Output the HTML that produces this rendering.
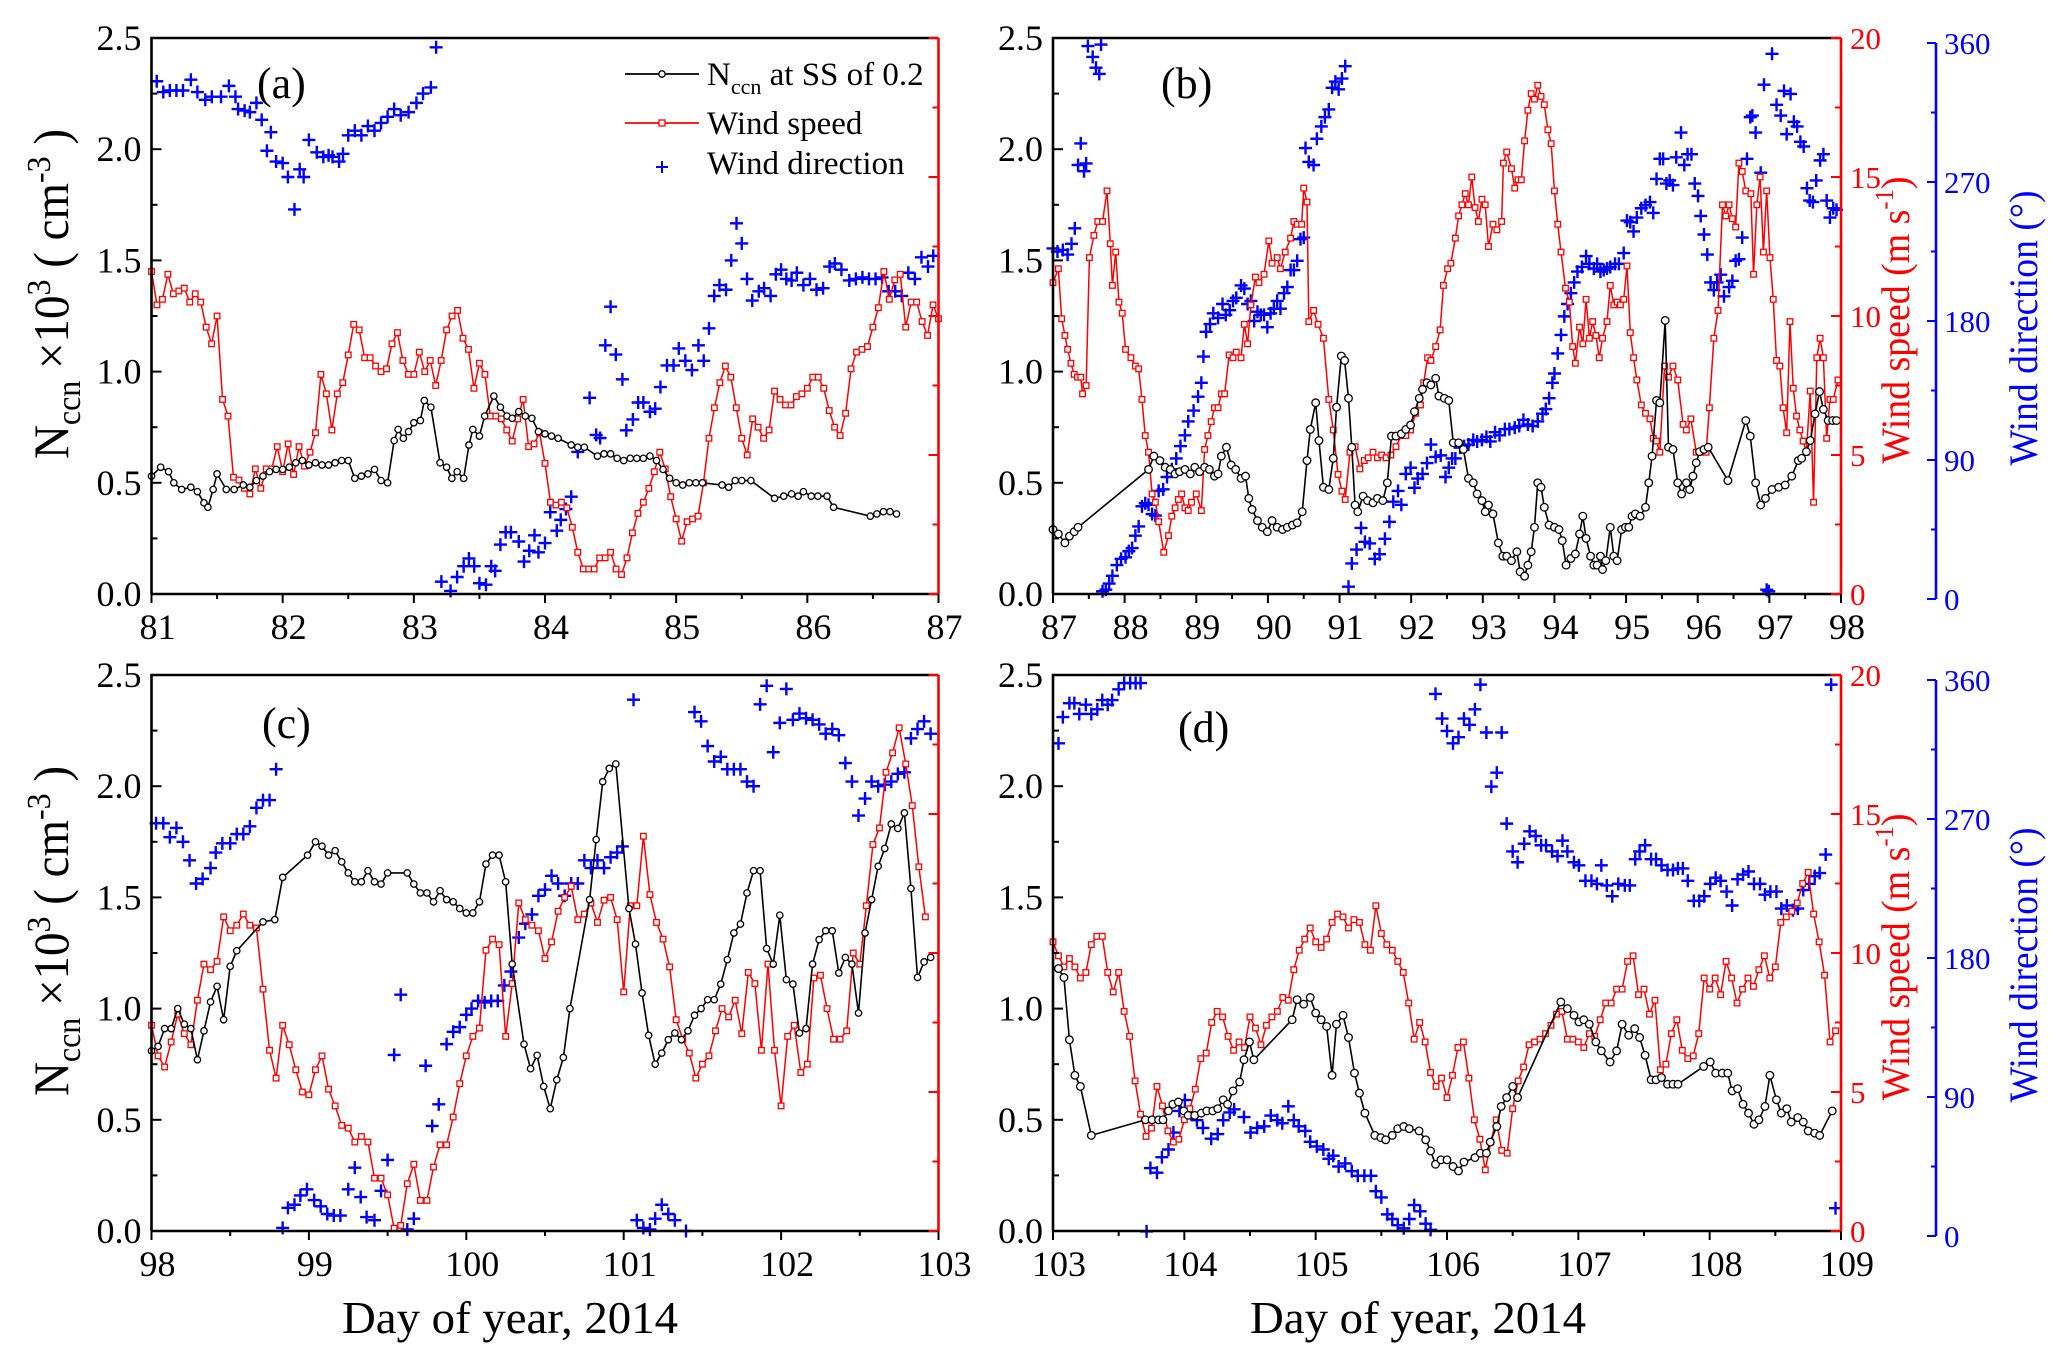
<!DOCTYPE html>
<html><head><meta charset="utf-8"><style>
html,body{margin:0;padding:0;background:#fff;}
svg{display:block;font-family:"Liberation Serif","Times New Roman",serif;}
svg text{font-family:"Liberation Serif","Times New Roman",serif;}
</style></head><body>
<svg id="chart" xmlns="http://www.w3.org/2000/svg" width="2067" height="1366" viewBox="0 0 2067 1366" font-family="Liberation Serif, serif">
<rect width="2067" height="1366" fill="#fff"/>
</svg>
<script>
// ---------------- Panel (a): days 81-87 ----------------
const naccA_days=[81.00,81.07,81.13,81.17,81.23,81.30,81.35,81.40,81.43,81.47,
81.50,81.57,81.63,81.70,81.75,81.80,81.85,81.90,81.95,82.00,
82.05,82.10,82.15,82.20,82.25,82.30,82.35,82.40,82.45,82.50,
82.55,82.60,82.65,82.70,82.75,82.80,82.85,82.88,82.92,82.96,
83.00,83.05,83.08,83.13,83.20,83.25,83.29,83.33,83.38,83.42,
83.45,83.50,83.54,83.61,83.66,83.71,83.75,83.80,83.85,83.90,
83.95,84.00,84.05,84.10,84.20,84.25,84.30,84.40,84.45,84.50,
84.55,84.60,84.65,84.70,84.75,84.80,84.85,84.90,84.95,85.00,
85.05,85.10,85.15,85.20,85.35,85.40,85.45,85.50,85.57,85.75,
85.82,85.88,85.93,85.97,86.03,86.08,86.15,86.20,86.48,86.53,
86.58,86.63,86.68];
const naccA_vals=[.53,.57,.55,.50,.47,.48,.46,.41,.39,.47,
.54,.47,.47,.49,.48,.51,.53,.55,.56,.56,
.57,.59,.60,.58,.59,.58,.58,.59,.60,.60,
.52,.53,.54,.56,.51,.50,.69,.74,.70,.73,
.77,.78,.87,.84,.59,.57,.52,.55,.52,.67,
.74,.71,.80,.89,.84,.80,.79,.82,.80,.79,
.73,.72,.71,.70,.67,.66,.66,.62,.63,.63,
.61,.60,.61,.61,.61,.62,.60,.56,.52,.50,
.49,.50,.50,.50,.49,.48,.51,.51,.51,.43,
.44,.45,.44,.46,.44,.44,.44,.39,.35,.36,
.37,.37,.36];
// hourly wind speed from day 81.0
const windA_vals=[11.6,10.4,10.6,11.5,10.8,10.9,11.0,10.5,10.8,10.5,9.6,9.0,10.0,7.0,6.4,
4.2,4.1,3.8,3.6,4.5,3.8,4.5,4.5,5.3,4.4,5.4,4.3,5.3,4.6,5.1,
5.8,7.9,7.2,5.9,7.2,7.6,8.6,9.7,9.5,8.5,8.5,8.2,8.0,8.1,9.0,
9.4,8.4,7.9,7.9,8.7,8.0,8.4,7.5,8.4,9.5,10.0,10.2,9.2,8.8,7.4,
8.3,7.9,6.4,6.4,6.3,5.9,5.5,6.3,7.0,5.3,5.4,5.8,4.7,3.3,3.2,
3.3,3.1,2.4,1.5,0.9,0.9,0.9,1.3,1.3,1.5,0.9,0.7,1.3,2.2,2.9,
3.3,3.8,4.4,5.1,4.5,3.5,2.7,1.9,2.6,2.7,2.8,4.0,5.6,6.7,7.6,
8.2,7.8,6.7,5.6,5.0,6.3,6.0,5.6,5.9,7.3,7.0,6.8,6.8,7.1,7.2,
7.4,7.8,7.8,7.4,6.6,6.0,5.7,6.5,8.1,8.7,8.8,8.9,9.6,10.3,11.6,
10.6,11.3,11.5,9.6,10.5,10.5,9.8,9.3,10.4,9.9];
const dirA_days=[81.04,81.09,81.14,81.19,81.24,81.30,81.35,81.41,81.46,81.53,
81.59,81.64,81.66,81.71,81.75,81.80,81.84,81.88,81.91,81.95,
82.00,82.04,82.09,82.13,82.16,82.20,82.26,82.31,82.35,82.38,
82.43,82.46,82.50,82.55,82.60,82.65,82.70,82.75,82.80,82.85,
82.90,82.96,83.02,83.07,83.13,83.17,
83.21,83.28,83.33,83.38,83.42,83.46,83.50,83.55,83.59,83.62,
83.66,83.70,83.74,83.80,83.84,83.88,83.92,83.95,84.00,84.04,
84.09,84.12,84.16,84.20,84.25,84.34,84.39,84.42,84.46,84.50,
84.54,84.59,84.62,84.67,84.71,84.75,84.80,84.84,84.88,84.93,
84.98,85.02,85.07,85.12,85.17,85.21,85.25,85.29,85.33,85.38,
85.42,85.46,85.50,85.54,85.58,85.63,85.67,85.72,85.76,85.80,
85.84,85.88,85.92,85.97,86.02,86.07,86.12,86.17,86.21,86.26,
86.32,86.37,86.42,86.47,86.52,86.57,86.62,86.67,86.72,86.77,
86.82,86.87,86.92,86.96];
const dirA_vals=[332,325,326,326,326,333,325,320,322,322,
329,322,314,313,312,318,307,287,299,280,
279,270,249,275,270,294,286,283,284,283,
280,285,297,300,297,303,300,305,309,314,
310,312,318,324,328,354,
8,2,11,18,23,18,7,6,18,15,
32,40,40,34,21,28,38,27,33,53,
41,48,55,63,92,127,103,101,161,186,
155,139,106,113,124,124,118,120,134,148,
148,159,151,145,161,151,172,193,200,197,
216,240,227,204,190,196,198,193,207,210,
204,203,208,200,204,197,198,212,214,210,
203,204,205,204,204,205,196,196,193,208,
204,218,212,219];

// ---------------- Panel (b): hours from day 87 ----------------
const naccB_hours=[0,1.8,4.0,5.5,7.1,8.4,32.0,33.8,35.8,37.6,
39.3,40.9,42.4,44.2,46.0,47.5,49.1,50.8,52.4,54.1,
55.3,56.4,58.1,59.7,61.2,63.0,64.5,65.6,66.7,68.5,
70.1,71.8,73.4,75.1,76.9,78.5,80.2,81.8,83.5,85.1,
86.2,88.0,89.1,90.6,92.4,93.9,95.0,96.6,97.7,99.0,
100.1,101.2,102.1,103.9,105.4,107.2,108.7,110.5,112.0,113.4,
114.9,116.7,118.2,119.8,121.1,122.7,123.8,125.3,126.6,128.2,
129.3,131.1,132.6,134.1,135.9,137.5,139.2,140.8,142.1,143.7,
144.8,145.9,147.4,149.2,150.7,152.0,153.6,155.4,156.5,158.0,
159.1,160.2,161.3,162.4,163.5,164.6,166.2,168.0,169.5,170.6,
171.9,173.5,175.0,176.4,177.5,178.6,180.1,181.2,182.3,183.4,
184.1,185.2,186.7,187.9,189.0,190.5,191.8,192.9,194.0,195.1,
196.7,198.5,199.6,200.7,202.2,203.3,205.1,206.2,207.7,209.3,
210.6,212.2,213.3,214.4,215.5,216.6,218.1,219.5,226.1,232.1,
233.6,235.4,237.1,238.7,240.9,243.1,245.3,247.5,249.7,250.8,
252.4,253.7,255.3,256.8,258.1,259.7,261.2,262.5];
const naccB_vals=[.29,.27,.23,.26,.28,.30,.56,.62,.60,.57,
.56,.54,.55,.56,.54,.57,.55,.57,.56,.53,
.54,.62,.66,.58,.56,.52,.53,.43,.38,.33,
.30,.28,.33,.30,.29,.30,.31,.32,.37,.60,
.74,.86,.69,.48,.47,.61,.84,1.07,1.05,.88,
.66,.40,.37,.44,.42,.41,.43,.42,.50,.71,
.71,.72,.74,.76,.82,.88,.92,.95,.94,.97,
.89,.88,.87,.68,.68,.65,.52,.50,.45,.42,
.37,.40,.36,.23,.17,.17,.15,.19,.10,.08,
.13,.19,.30,.50,.48,.39,.31,.30,.29,.24,
.13,.16,.18,.27,.35,.25,.17,.13,.13,.17,
.11,.15,.30,.17,.15,.29,.30,.30,.35,.36,
.35,.39,.50,.62,.87,.86,1.23,.66,.65,.50,
.45,.50,.47,.53,.59,.64,.65,.66,.51,.78,
.71,.50,.40,.43,.47,.48,.49,.53,.60,.61,
.64,.69,.81,.91,.83,.78,.78,.78];
const windB_hours=[0,1.8,2.9,4.0,4.9,6.0,7.1,8.2,9.3,9.9,
11.1,12.2,13.7,15.0,16.6,18.1,19.2,19.9,21.0,22.1,
23.2,24.3,26.1,27.6,28.7,29.8,30.9,32.0,33.2,34.3,
35.4,37.1,38.7,39.8,40.9,42.0,43.1,44.2,45.3,46.4,
48.0,49.7,50.8,51.9,53.0,54.1,55.3,56.4,57.5,59.0,
60.3,61.4,63.0,64.1,65.2,66.3,67.8,69.0,70.7,72.3,
73.4,75.1,76.2,77.8,79.6,80.7,81.8,83.3,84.0,85.1,
85.7,87.3,88.8,90.6,92.4,93.9,95.5,96.8,97.9,99.5,
101.2,102.8,104.3,105.6,107.2,108.7,110.1,111.6,113.2,114.9,
116.7,118.2,119.8,121.5,123.1,124.2,125.5,126.6,128.2,129.7,
130.8,132.2,133.3,134.8,135.9,137.0,138.1,139.2,140.3,141.4,
142.5,143.7,144.8,145.9,147.4,148.7,150.3,150.9,152.0,153.6,
154.7,155.8,156.9,158.0,159.1,160.2,161.3,162.4,163.5,164.6,
165.8,166.9,168.0,169.1,170.2,171.7,173.0,174.1,175.0,176.4,
177.5,178.6,179.7,180.8,181.9,183.0,184.1,185.6,186.7,187.9,
189.0,190.1,191.2,192.3,193.4,194.5,195.6,197.1,198.5,200.0,
201.1,202.2,203.3,204.9,206.2,207.7,209.3,211.1,212.2,213.7,
215.5,217.0,218.8,219.9,221.4,222.8,224.3,225.4,226.5,227.6,
228.7,229.8,230.9,232.1,233.8,234.7,235.8,236.9,238.0,239.1,
240.2,241.3,242.4,243.5,244.6,245.8,246.9,248.0,249.1,250.2,
251.3,252.4,253.7,254.8,255.9,257.0,258.1,259.2,260.3,261.4,
263.0];
const windB_vals=[11.2,11.7,9.9,9.3,8.8,8.3,7.9,7.8,7.8,7.2,
7.5,12.1,12.9,13.4,13.4,14.5,12.6,11.1,12.3,10.5,
10.1,8.8,8.5,8.2,8.1,7.0,5.7,5.1,3.6,3.3,
2.6,1.5,2.1,2.8,3.1,3.4,3.6,3.1,3.0,3.3,
3.6,3.0,5.2,5.7,6.2,6.7,6.7,7.2,7.2,8.6,
8.5,8.7,8.5,9.7,9.0,10.4,11.4,11.2,11.5,12.7,
11.9,12.1,11.7,12.3,12.8,13.4,13.3,13.3,14.6,14.1,
9.8,10.2,9.7,9.2,7.0,5.9,4.3,3.7,3.4,5.1,
5.3,4.5,4.8,4.9,5.1,4.9,5.0,4.9,5.0,5.3,
5.7,5.7,5.9,6.5,6.8,7.6,8.5,8.4,8.9,9.5,
11.1,11.7,11.9,12.8,13.6,14.0,14.4,14.0,15.0,13.9,
13.4,14.2,14.0,12.5,13.3,13.1,13.4,15.5,15.9,15.3,
14.6,14.9,14.9,16.3,17.4,18.0,17.8,18.3,17.9,17.6,
16.7,16.2,14.5,13.3,12.3,11.0,10.5,8.9,8.3,9.6,
9.0,10.6,9.2,9.8,9.3,8.5,9.2,9.8,11.1,10.4,
10.5,10.4,10.6,11.8,9.4,8.5,7.7,6.8,6.5,6.3,
5.6,5.5,5.1,8.2,7.8,8.2,7.7,6.1,5.9,6.3,
5.1,5.1,5.1,6.7,9.2,10.2,14.0,13.6,14.0,13.5,
13.2,15.5,15.2,14.5,14.4,11.5,14.0,15.0,12.3,14.5,
12.1,10.6,8.4,8.2,6.7,5.8,9.8,7.4,6.4,5.9,
5.5,5.1,7.3,3.3,8.5,9.2,8.5,5.6,7.0,7.0,
7.7];
const dirB_hours=[0,1.5,3.3,4.9,6.2,7.3,8.4,9.3,10.4,11.1,
11.7,13.3,14.4,15.5,16.1,16.6,17.7,18.8,19.9,21.4,
22.8,24.3,25.4,26.5,27.6,28.7,29.8,30.9,32.0,33.2,
34.3,35.4,36.9,38.2,39.8,41.3,42.7,44.2,45.3,47.1,
48.6,49.7,50.4,51.3,52.6,53.7,55.3,56.8,57.9,59.2,
60.3,61.4,63.0,64.1,65.2,66.3,67.4,68.5,69.6,70.7,
71.8,72.9,74.0,75.1,76.2,77.4,78.5,79.6,80.7,81.8,
82.9,84.0,84.6,85.7,87.3,88.4,89.9,91.1,92.4,93.5,
94.6,95.7,96.8,97.9,99.0,100.1,101.7,103.2,104.5,106.1,
107.8,109.4,111.2,112.7,114.0,115.6,116.7,118.2,119.8,121.1,
122.2,123.8,125.3,126.6,128.2,129.9,131.5,132.6,133.7,134.8,
136.4,137.7,139.2,140.8,142.1,143.7,145.2,146.5,148.1,149.6,
151.4,152.9,154.7,156.2,157.6,159.1,160.7,162.4,164.0,165.1,
166.2,167.3,168.0,169.1,170.2,171.3,172.4,173.5,174.6,175.7,
177.2,178.6,179.7,181.2,182.3,183.4,184.5,185.6,186.7,188.3,
189.6,191.2,192.3,193.4,194.5,195.6,197.1,198.5,200.0,201.1,
202.2,203.3,204.4,205.5,206.6,207.7,208.8,210.4,211.5,212.6,
213.9,215.0,216.1,217.0,218.1,219.2,220.3,221.4,222.5,223.7,
224.8,226.5,227.6,228.7,229.8,230.9,232.5,233.6,234.3,235.4,
237.1,238.2,239.1,239.8,240.9,242.4,243.8,244.9,245.8,247.1,
248.2,249.3,250.4,251.5,252.6,253.5,254.6,255.7,257.0,258.1,
259.2,260.3,261.4,262.5];
const dirB_vals=[227,225,226,223,230,240,281,295,277,282,
358,351,344,340,359,5,6,10,15,22,
26,27,31,33,41,47,60,62,61,55,
54,70,71,79,84,91,99,106,115,122,
131,140,157,173,178,185,182,191,184,187,
193,195,203,201,191,193,180,186,184,184,
176,185,188,193,188,198,202,213,213,219,
233,234,292,283,281,298,306,312,317,331,
335,330,337,345,8,23,32,46,37,36,
26,29,39,50,63,70,61,81,85,72,
78,81,88,100,92,93,79,85,91,91,
98,99,100,103,102,103,105,102,108,106,
110,110,111,112,116,113,112,115,120,123,
130,140,146,159,171,183,191,198,205,212,
215,222,217,214,217,212,213,214,215,217,
217,224,245,244,238,247,253,255,257,250,
272,285,285,269,271,268,286,302,281,288,
288,269,261,248,236,223,205,200,205,210,
196,202,206,219,220,234,285,312,313,302,
276,333,6,5,353,320,313,329,301,327,
309,306,296,293,266,258,257,271,284,288,
258,247,253,252];

// ---------------- Panel (c): hours from day 98 ----------------
const naccC_hours=[0,1,2,3,4,5,6,7,8,9,10,11,12,13,17,18.8,20,23.8,25,26,
27,28,29,30,31,32,33,34,35,36,39,40,41,42,43,44,45,46,47,48,
49,50,51,52,53,54,55,56.8,57.8,58.8,59.8,60.8,61.8,62.8,63.8,66.8,67.8,68.8,69.8,70.8,
72.8,73.8,74.8,75.8,76.8,77.8,78.8,79.8,80.8,81.8,82.8,83.8,84.8,85.8,86.8,87.8,88.8,89.8,90.8,91.8,
92.8,93.8,94.8,95.8,96.8,97.8,98.8,99.8,100.8,101.8,102.8,103.8,104.8,105.8,106.8,107.8,108.8,109.8,110.8,111.8,
112.8,113.8,114.8,115.8,116.8,117.8,118.8];
const naccC_vals=[.81,.83,.91,.91,1.00,.93,.91,.77,.90,1.03,1.10,.95,1.19,1.26,1.39,1.40,1.59,1.69,1.75,1.73,
1.69,1.71,1.66,1.61,1.57,1.57,1.62,1.57,1.56,1.61,1.61,1.56,1.52,1.52,1.48,1.53,1.49,1.48,1.45,1.43,
1.43,1.48,1.65,1.69,1.69,1.57,1.20,.84,.73,.79,.65,.55,.68,.78,1.00,1.49,1.76,2.02,2.08,2.10,
1.45,1.29,1.07,.88,.75,.80,.86,.89,.86,.90,.97,1.00,1.04,1.04,1.11,1.22,1.34,1.38,1.52,1.62,
1.62,1.27,1.20,1.42,1.13,1.11,.89,.91,1.20,1.31,1.35,1.35,1.16,1.23,1.20,.98,1.34,1.49,1.64,1.72,
1.83,1.81,1.88,1.54,1.14,1.21,1.23];
// hourly wind speed from day 98.0
const windC_vals=[7.4,6.3,5.9,6.8,7.8,7.1,6.7,8.3,9.6,9.4,
9.7,11.3,10.8,11.0,11.4,11.0,10.9,8.7,6.5,5.5,
7.4,6.7,5.8,5.0,4.9,5.8,6.3,5.1,4.5,3.8,
3.7,3.2,3.4,3.2,1.9,1.9,1.3,0.1,0.2,1.7,
2.4,1.1,1.1,2.3,3.1,3.1,4.1,5.3,6.3,7.0,7.3,
10.1,10.5,10.3,7.0,8.9,11.8,11.2,11.0,10.8,9.8,
10.4,11.5,12.0,12.4,11.2,11.4,11.8,11.1,11.9,12.0,
11.2,8.6,11.7,11.7,14.2,12.1,11.1,10.5,9.5,7.6,
6.9,6.4,5.5,6.0,6.3,7.2,8.0,7.7,8.3,7.1,
9.3,8.9,6.5,9.6,6.5,4.5,7.0,7.4,5.7,6.0,
9.1,9.2,8.0,6.9,6.9,7.2,10.0,9.6,11.7,13.9,
14.5,16.5,17.2,18.1,16.8,15.3,13.1,11.3];
const dirC_hours=[0.7,1.8,2.8,3.8,4.8,5.8,6.8,7.8,9,9.8,10.8,12,13,14,15,16,17,18,19,
20,20.8,21.8,22.7,23.7,24.8,25.8,26.8,27.8,28.8,30,31,31.9,32.8,34,35,36,37,38,39,40,
41.8,42.8,43.8,45,46,47,48,48.8,49.8,50.8,51.8,52.8,53.8,54.8,56,57,58,59,60,61,
62,63,64,65,66,67,68,69,70,71,71.8,73.5,74,75,76,76.8,77.8,78.8,79.8,81.5,
82.8,83.8,84.8,85.8,86.8,87.8,88.8,89.8,90.8,91.8,92.8,93.8,94.8,95.8,96.8,97.8,98.8,99.8,100.8,101.8,
102.8,103.8,104.8,105.8,106.8,107.8,108.8,109.8,110.8,111.8,112.8,113.8,114.8,115.8,116.8,117.8,118.8];
const dirC_vals=[264,264,255,261,252,240,225,228,235,245,251,251,257,257,262,274,279,279,299,
2,15,17,23,27,20,16,11,10,10,27,41,22,9,7,26,46,114,153,1,8,
107,68,82,121,129,132,140,144,149,148,149,149,159,168,190,199,205,217,221,230,
225,217,225,225,240,235,240,235,242,245,249,344,7,2,1,8,17,11,7,0,
336,330,314,304,307,299,299,299,291,288,341,353,310,329,351,331,335,332,331,328,
322,325,321,303,291,269,280,291,288,289,291,296,297,319,325,330,322];

// ---------------- Panel (d): hours from day 103 ----------------
const naccD_hours=[1,2,3,4,5,7,16.9,18.1,19.3,20.1,
21.1,21.9,22.9,23.9,24.7,25.9,27.1,28.1,29.2,30.1,
31.1,31.9,32.9,34.1,34.9,35.9,36.7,43.7,44.6,45.8,
47,48,49,50,51,51.8,53,54,55.1,56,
57,58.8,59.9,60.8,62,63,64.1,65.1,66.9,68.1,
69,69.9,70.9,72,73.1,74.1,75.1,77.1,78.1,79.2,
79.9,81.1,81.9,82.9,84,84.9,92.8,94,95.2,96.1,
97,98,99.2,100.2,101.8,103,104,105.2,106.3,107.2,
108.2,109.3,110.2,111.2,112.3,113.3,114.2,118.9,120.1,121.1,
122.3,123.3,124.1,125.1,126.1,127.1,128.1,129,130.1,131,
132.2,133.1,134.1,134.9,136.1,137.1,138,139.2,140.1,142.4];
const naccD_vals=[1.18,1.14,.86,.70,.65,.43,.50,.50,.50,.50,
.54,.57,.58,.54,.52,.52,.53,.54,.54,.55,
.59,.57,.63,.67,.77,.85,.77,.95,1.04,1.02,
1.05,.98,.95,.92,.70,.93,.97,.87,.71,.62,
.53,.43,.42,.41,.43,.46,.47,.46,.45,.41,
.36,.30,.32,.32,.29,.27,.31,.33,.35,.35,
.40,.47,.56,.60,.65,.60,1.03,1.00,.97,.94,
.95,.93,.85,.81,.76,.81,.93,.88,.91,.87,
.79,.68,.68,.69,.66,.66,.66,.74,.76,.71,
.71,.71,.63,.64,.57,.53,.48,.50,.56,.70,
.59,.53,.55,.49,.51,.49,.45,.44,.43,.54];
// hourly wind speed from day 103.0
const windD_vals=[10.4,9.9,9.5,9.8,9.5,9.1,9.3,10.3,10.6,10.6,
9.3,8.6,9.3,7.9,7.0,5.4,4.2,3.4,3.7,5.2,
4.5,3.6,3.2,3.3,4.0,4.4,5.1,6.2,6.4,7.5,
7.9,7.7,7.0,6.5,6.8,6.6,7.7,7.3,6.7,7.4,
7.7,7.9,8.4,8.3,9.4,10.1,10.5,10.9,10.4,10.2,
10.5,11.1,11.4,11.3,10.9,11.2,11.1,10.3,10.1,11.7,
10.7,10.3,10.1,9.7,9.3,8.2,6.9,7.5,6.8,5.7,
5.2,5.5,4.8,5.6,6.6,6.8,5.5,4.0,3.3,2.2,
3.2,4.0,2.9,2.8,4.4,5.4,5.9,6.7,6.8,6.9,
7.1,7.4,7.8,7.9,6.9,6.9,6.8,6.6,7.1,7.0,
7.6,8.2,8.2,8.7,8.7,9.7,9.9,8.5,8.7,7.8,
8.3,5.8,6.0,7.1,7.6,6.5,6.2,6.3,7.1,9.1,
8.7,9.1,8.5,9.7,9.1,8.2,8.7,9.1,8.8,9.4,
9.9,9.1,9.5,11.1,11.3,11.5,11.8,12.5,12.9,11.4,
10.4,9.2,6.8,7.2];
const dirD_hours=[1,1.8,3,3.9,4.8,6,7,8.1,9,10,
10.8,12,13,14.1,15.1,16,17.1,17.8,19,19.9,
21.1,22,23.1,24.1,25.3,26.3,27.4,28.9,30.1,31.1,
32.3,33.1,34.9,36.1,37.3,38.6,39.8,41,41.9,43,
44,44.9,46.1,47,48.2,49.4,50.4,51.2,52.2,53.4,
54.6,55.7,56.9,58.1,59,60,61.1,62,63,64.1,
65.1,66,67.1,68.1,69,69.9,71.1,72,73.1,74.1,
75.1,76.1,77.1,78.1,79.2,80.1,81.1,82,82.9,84,
84.9,86.1,87.1,88.2,89.2,90.1,91.2,92.2,93.1,94,
95.2,96.1,97.3,98.4,99.4,100.2,101.2,102.2,103.3,104.5,
105.4,106.4,107.2,108.2,109.3,110.2,111.2,112.3,113.3,114.2,
115.1,116,117.1,118.1,119,120.1,121.1,122,123.1,124.1,
125.1,126.1,127.1,128.1,129.2,130.1,131.1,132.2,133.1,134.1,
135.2,136.1,137.1,138.2,139.2,140.1,141.2,142.2,143];
const dirD_vals=[319,336,345,345,338,344,338,341,347,344,
347,354,358,358,358,358,3,44,41,51,
56,67,81,88,79,75,70,63,66,75,
80,82,77,67,70,71,78,75,73,84,
75,71,68,61,58,56,50,52,45,47,
42,39,39,39,29,25,14,11,7,5,
11,20,16,8,4,351,335,327,319,323,
335,331,341,357,326,291,300,326,267,249,
242,254,262,259,253,253,249,246,256,249,
242,240,230,230,228,240,227,220,228,227,
227,244,249,253,244,244,240,237,237,238,
238,230,217,217,220,228,232,230,223,214,
231,234,236,228,228,221,223,223,212,214,
211,212,224,228,233,235,247,357,18];

// ---------------- tick labels ----------------
const nccnTicks=[0.0,0.5,1.0,1.5,2.0,2.5];
const windTicks=[0,5,10,15,20];
const dirTicks=[0,90,180,270,360];
const dayTicksA=[81,82,83,84,85,86,87];
const dayTicksB=[87,88,89,90,91,92,93,94,95,96,97,98];
const dayTicksC=[98,99,100,101,102,103];
const dayTicksD=[103,104,105,106,107,108,109];

const NS="http://www.w3.org/2000/svg";
const FONT='Liberation Serif, Times New Roman, serif';
const svg=document.getElementById('chart');
function mk(tag,attrs,parent){const e=document.createElementNS(NS,tag);for(const k in attrs)e.setAttribute(k,attrs[k]);if(tag==='text')e.setAttribute('font-family',FONT);(parent||svg).appendChild(e);return e;}

const panels=[
 {id:'a',x0:151.5,x1:938.5,y0:38,y1:594,dmin:81,dmax:87,start:81,ticks:dayTicksA,right:false,lab:'(a)',lx:257,ly:98,
  nH:naccA_days,nV:naccA_vals,nDays:true,wV:windA_vals,wH:null,dH:dirA_days,dV:dirA_vals,dDays:true},
 {id:'b',x0:1053,x1:1841,y0:38,y1:594,dmin:87,dmax:98,start:87,ticks:dayTicksB,right:true,bTop:43,bBot:599,lab:'(b)',lx:1161,ly:98,
  nH:naccB_hours,nV:naccB_vals,wV:windB_vals,wH:windB_hours,dH:dirB_hours,dV:dirB_vals},
 {id:'c',x0:151.5,x1:938.5,y0:675,y1:1231,dmin:98,dmax:103,start:98,ticks:dayTicksC,right:false,lab:'(c)',lx:262,ly:738,xtitle:true,
  nH:naccC_hours,nV:naccC_vals,wV:windC_vals,wH:null,dH:dirC_hours,dV:dirC_vals},
 {id:'d',x0:1053,x1:1841,y0:675,y1:1231,dmin:103,dmax:109,start:103,ticks:dayTicksD,right:true,bTop:680,bBot:1236,lab:'(d)',lx:1178,ly:742,xtitle:true,
  nH:naccD_hours,nV:naccD_vals,wV:windD_vals,wH:null,dH:dirD_hours,dV:dirD_vals}
];

function drawPanel(p){
  const g=mk('g',{});
  
  
  const sx=d=>p.x0+(d-p.dmin)/(p.dmax-p.dmin)*(p.x1-p.x0);
  const sy=v=>p.y1-v/2.5*(p.y1-p.y0);
  const sw=w=>p.y1-w/20*(p.y1-p.y0);
  const bT=p.right?p.bTop:p.y0, bB=p.right?p.bBot:p.y1;
  const sd=v=>bB-v/360*(bB-bT);
  const hd=h=>p.start+h/24;

  const dg=mk('g',{},g);
  
  
  const nd=Math.min(p.dH.length,p.dV.length);
  for(let i=0;i<nd;i++){
    const day=p.dDays?p.dH[i]:hd(p.dH[i]);
    const x=sx(day),y=sd(p.dV[i]);
    const m=mk('path',{d:`M${x-6.5},${y}H${x+6.5}M${x},${y-6.5}V${y+6.5}`,stroke:'#0000ff','stroke-width':2.4,fill:'none'},dg);
    
    
  }
  const wg=mk('g',{},g);
  
  
  const wpts=[];
  for(let i=0;i<p.wV.length;i++){
    const h=p.wH?p.wH[i]:i;
    if(h===undefined)break;
    wpts.push([sx(hd(h)),sw(p.wV[i])]);
  }
  const wl=mk('polyline',{points:wpts.map(q=>q.join(',')).join(' '),fill:'none',stroke:'#ff0000','stroke-width':1.5},wg);
  
  
  wpts.forEach(q=>{const r=mk('rect',{x:q[0]-2.8,y:q[1]-2.8,width:5.6,height:5.6,fill:'#fff',stroke:'#ff0000','stroke-width':1.3},wg);
    
    });
  const ng=mk('g',{},g);
  
  
  const npts=[];
  const nn=Math.min(p.nH.length,p.nV.length);
  for(let i=0;i<nn;i++){const day=p.nDays?p.nH[i]:hd(p.nH[i]);npts.push([sx(day),sy(p.nV[i])]);}
  const nl=mk('polyline',{points:npts.map(q=>q.join(',')).join(' '),fill:'none',stroke:'#000','stroke-width':1.6},ng);
  
  
  const rr=p.right?3.8:3.2;
  npts.forEach(q=>{const c=mk('circle',{cx:q[0],cy:q[1],r:rr,fill:'#fff',stroke:'#000','stroke-width':1.3},ng);
    
    });

  const ax=mk('g',{},g);
  
  
  mk('path',{d:`M${p.x0},${p.y1}V${p.y0}H${p.x1}M${p.x0},${p.y1}H${p.x1}`,stroke:'#000','stroke-width':2.6,fill:'none'},ax);
  mk('line',{x1:p.x1,y1:p.y0,x2:p.x1,y2:p.y1,stroke:'#ff0000','stroke-width':2.6},ax);
  for(let v=0;v<=2.5001;v+=0.25){const y=sy(v);const L=(Math.round(v*100)%50===0)?10:6;
    mk('line',{x1:p.x0,y1:y,x2:p.x0+L,y2:y,stroke:'#000','stroke-width':2},ax);}
  nccnTicks.forEach(v=>{const t=mk('text',{x:p.x0-10,y:sy(v)+12,'font-size':36,'text-anchor':'end',fill:'#000'},ax);t.textContent=v.toFixed(1);
    
    });
  for(let w=0;w<=20.001;w+=2.5){const y=sw(w);const L=(w%5===0)?10:6;
    mk('line',{x1:p.x1,y1:y,x2:p.x1-L,y2:y,stroke:'#ff0000','stroke-width':2},ax);}
  for(let d=p.dmin;d<=p.dmax+0.001;d+=0.5){const x=sx(d);const L=(Math.abs(d-Math.round(d))<0.01)?9:5;
    mk('line',{x1:x,y1:p.y1,x2:x,y2:p.y1+L,stroke:'#000','stroke-width':2},ax);}
  p.ticks.forEach(d=>{const t=mk('text',{x:sx(d)+6,y:p.y1+45,'font-size':36,'text-anchor':'middle',fill:'#000'},ax);t.textContent=d;
    
    });
  if(p.right){
    windTicks.forEach(w=>{const t=mk('text',{x:p.x1+9,y:sw(w)+11,'font-size':31,fill:'#ff0000'},ax);t.textContent=w;
      
      });
    const bx=1936;
    mk('line',{x1:bx,y1:bT,x2:bx,y2:bB,stroke:'#0000ff','stroke-width':2.6},ax);
    for(let v=0;v<=360;v+=45){const y=sd(v);mk('line',{x1:bx,y1:y,x2:bx-(v%90===0?9:5),y2:y,stroke:'#0000ff','stroke-width':2},ax);}
    dirTicks.forEach(v=>{const t=mk('text',{x:bx+8,y:sd(v)+11,'font-size':31,fill:'#0000ff'},ax);t.textContent=v;
      
      });
    const cy=(p.y0+p.y1)/2+4;
    const t1=mk('text',{transform:`translate(1909,${cy}) rotate(-90)`,'font-size':40,'text-anchor':'middle',fill:'#ff0000',textLength:287,lengthAdjust:'spacingAndGlyphs'},ax);
    t1.innerHTML='Wind speed (m s<tspan dy="-16" font-size="26">-1</tspan><tspan dy="16">)</tspan>';
    
    
    const t2=mk('text',{transform:`translate(2037,${cy+8}) rotate(-90)`,'font-size':40,'text-anchor':'middle',fill:'#0000ff',textLength:275,lengthAdjust:'spacingAndGlyphs'},ax);
    t2.textContent='Wind direction (°)';
    
    
  } else {
    const cy=(p.y0+p.y1)/2-22;
    const t=mk('text',{transform:`translate(68,${cy}) rotate(-90)`,'font-size':50,'text-anchor':'middle',fill:'#000',textLength:330,lengthAdjust:'spacingAndGlyphs'},ax);
    t.innerHTML='N<tspan dy="12" font-size="34">ccn</tspan><tspan dy="-12"> ×10</tspan><tspan dy="-18" font-size="34">3</tspan><tspan dy="18"> ( cm</tspan><tspan dy="-18" font-size="34">-3</tspan><tspan dy="18"> )</tspan>';
    
    
  }
  if(p.xtitle){
    const t=mk('text',{x:(p.x0+p.x1)/2+(p.right?-29:-35),y:1333,'font-size':46,'text-anchor':'middle',fill:'#000',textLength:336,lengthAdjust:'spacingAndGlyphs'},ax);
    t.textContent='Day of year, 2014';
    
    
  }
  const lt=mk('text',{x:p.lx,y:p.ly,'font-size':44,fill:'#000'},ax);
  lt.textContent=p.lab;
  
  
}
panels.forEach(drawPanel);

const lg=mk('g',{});


const e1=mk('g',{},lg);


mk('line',{x1:625,y1:74,x2:699,y2:74,stroke:'#000','stroke-width':1.8},e1);
mk('circle',{cx:662,cy:74,r:3.2,fill:'#fff',stroke:'#000','stroke-width':1.3},e1);
const tx1=mk('text',{x:707,y:85,'font-size':33,fill:'#000'},e1);
tx1.innerHTML='N<tspan dy="9" font-size="22">ccn</tspan><tspan dy="-9"> at SS of 0.2</tspan>';
const e2=mk('g',{},lg);


mk('line',{x1:625,y1:123,x2:699,y2:123,stroke:'#ff0000','stroke-width':1.8},e2);
mk('rect',{x:659,y:120,width:6,height:6,fill:'#fff',stroke:'#ff0000','stroke-width':1.3},e2);
const tx2=mk('text',{x:707,y:134,'font-size':33,fill:'#000'},e2);tx2.textContent='Wind speed';
const e3=mk('g',{},lg);


mk('path',{d:'M656,167H668M662,161V173',stroke:'#0000ff','stroke-width':2},e3);
const tx3=mk('text',{x:707,y:174,'font-size':33,fill:'#000'},e3);tx3.textContent='Wind direction';
</script>
</body></html>
